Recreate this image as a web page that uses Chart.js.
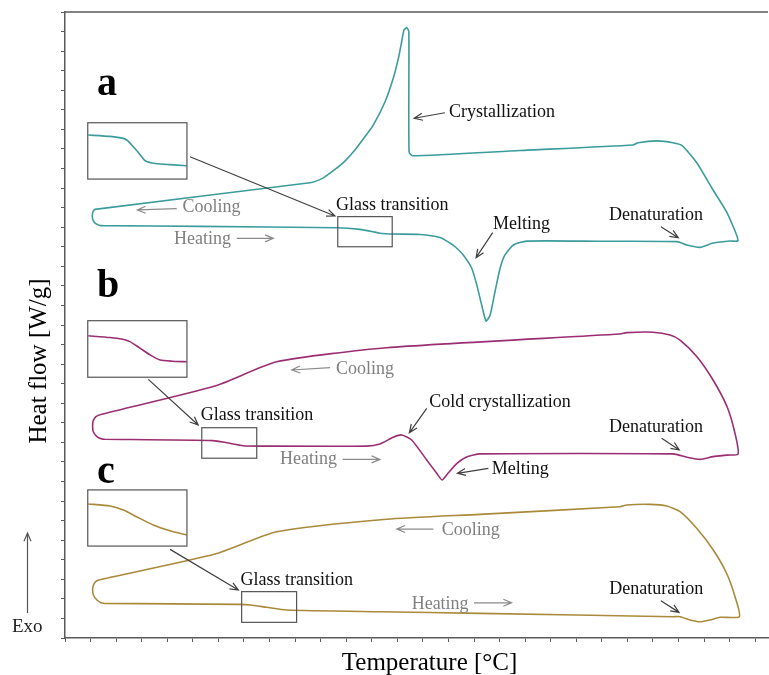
<!DOCTYPE html>
<html>
<head>
<meta charset="utf-8">
<script src="https://cdn.jsdelivr.net/npm/chart.js@4"></script>
<style>
  html, body { margin: 0; padding: 0; background: #fff; }
  canvas { display: block; }
</style>
</head>
<body>
<canvas id="dsc" width="769" height="675"></canvas>
<script>
// DSC loops (temperature in °C, heat flow in arbitrary units)
// each loop: heating branch left -> right, then cooling branch back to the start
const curveA = [
    [-85.0, 21.08], [-47.2, 21.04], [6.4, 20.97], [15.4, 20.89], [20.1, 20.78], [23.2, 20.69],
    [28.3, 20.65], [38.9, 20.63], [46.7, 20.47], [50.6, 20.19], [52.6, 20.00], [55.8, 19.58],
    [59.1, 18.90], [61.1, 18.04], [63.0, 17.02], [64.7, 16.20], [66.3, 16.51], [68.2, 17.70],
    [70.2, 18.90], [72.1, 19.58], [75.4, 20.09], [80.6, 20.29], [109.3, 20.28], [139.4, 20.26],
    [143.3, 20.09], [148.4, 19.97], [153.5, 20.19], [160.1, 20.29], [163.3, 20.32],
    [159.0, 21.73], [153.5, 22.90], [147.2, 24.28], [141.4, 25.17], [137.8, 25.32], [131.6, 25.41],
    [124.2, 25.32], [122.2, 25.20], [78.0, 24.92], [36.1, 24.65], [34.6, 24.84], [34.5, 30.99],
    [33.7, 31.20], [32.6, 31.08], [31.7, 30.48], [30.4, 29.63], [28.4, 28.61], [25.2, 27.41],
    [20.6, 26.22], [17.4, 25.64], [13.4, 24.95], [9.5, 24.38], [5.6, 23.95], [0.9, 23.51], [-4.2, 23.27],
    [-88.3, 21.91], [-89.2, 21.73], [-89.2, 21.42], [-88.1, 21.19], [-86.3, 21.09], [-85.0, 21.08]
];
const curveB = [
    [-84.4, 10.16], [-42.1, 10.09], [-36.7, 9.98], [-30.3, 9.83], [-23.7, 9.81], [18.0, 9.81],
    [23.2, 9.92], [28.4, 10.26], [31.7, 10.38], [35.6, 10.12], [41.5, 9.10], [45.4, 8.42],
    [47.5, 8.08], [49.8, 8.42], [53.3, 8.93], [57.3, 9.27], [62.3, 9.41], [137.8, 9.41],
    [143.3, 9.24], [148.4, 9.13], [153.5, 9.27], [159.0, 9.35], [163.3, 9.41],
    [162.1, 10.46], [159.0, 11.82], [153.5, 13.19], [147.2, 14.38], [140.6, 15.23], [136.7, 15.49],
    [130.0, 15.63], [119.8, 15.61], [117.1, 15.54], [25.8, 14.84], [-17.2, 14.12], [-41.3, 12.88],
    [-85.6, 11.44], [-87.9, 11.32], [-89.0, 11.09], [-89.2, 10.80], [-88.9, 10.53], [-87.5, 10.30],
    [-85.5, 10.17], [-84.4, 10.16]
];
const curveC = [
    [-84.6, 1.77], [-31.5, 1.72], [-27.6, 1.69], [-21.1, 1.57], [-13.3, 1.43], [23.2, 1.34],
    [62.3, 1.26], [137.8, 1.09], [140.6, 1.09], [144.5, 0.92], [148.4, 0.83], [152.3, 0.92],
    [156.2, 1.06], [163.8, 1.09],
    [162.1, 2.11], [158.8, 3.31], [153.6, 4.50], [147.1, 5.61], [140.6, 6.46], [135.4, 6.75],
    [128.8, 6.83], [119.7, 6.80], [117.1, 6.71], [62.3, 6.32], [25.8, 6.07], [-17.2, 5.43],
    [-41.3, 4.29], [-85.6, 3.00], [-87.9, 2.89], [-89.0, 2.66], [-89.2, 2.45], [-88.9, 2.20],
    [-87.5, 1.94], [-85.9, 1.80], [-84.6, 1.77]
];

// zoomed glass transition shown in the small boxes on the left
const insetA = [[-90.9, 25.71], [-82.4, 25.64], [-77.2, 25.54], [-75.4, 25.41], [-71.8, 24.89], [-68.7, 24.40], [-66.0, 24.28], [-62.8, 24.23], [-52.4, 24.14]];
const insetB = [[-90.9, 15.45], [-82.4, 15.36], [-77.8, 15.28], [-74.6, 15.15], [-70.7, 14.82], [-66.7, 14.47], [-62.8, 14.21], [-58.1, 14.15], [-52.4, 14.12]];
const insetC = [[-90.9, 6.85], [-82.4, 6.75], [-77.2, 6.54], [-72.0, 6.20], [-65.5, 5.78], [-58.9, 5.48], [-52.4, 5.27]];

const seriesColors = ['#3b9c9b', '#9b2d73', '#a98a3a'];

// boxes: [x1, y1, x2, y2]
const insetBoxes = [[-91.1, 26.34, -52.3, 23.46], [-91.1, 16.22, -52.3, 13.33], [-91.1, 7.57, -52.3, 4.70]];
const glassBoxes = [[6.7, 21.54, 28.0, 20.00], [-46.5, 10.75, -25.0, 9.19], [-30.9, 2.37, -9.4, 0.80]];

const panelLetters = ['a', 'b', 'c'];
const panelLetterPos = [[-87.5, 27.76], [-87.5, 17.43], [-87.5, 7.92]];

// notes: [text, x, y, gray]
const notes = [
    ['Glass transition', 6.0, 21.88, false],
    ['Cooling', -54.0, 21.78, true],
    ['Heating', -57.4, 20.15, true],
    ['Crystallization', 50.2, 26.63, false],
    ['Melting', 67.4, 20.91, false],
    ['Denaturation', 112.8, 21.37, false],
    ['Glass transition', -46.9, 11.14, false],
    ['Cooling', 6.0, 13.52, true],
    ['Heating', -15.9, 8.89, true],
    ['Cold crystallization', 42.5, 11.83, false],
    ['Melting', 66.9, 8.38, false],
    ['Denaturation', 112.8, 10.51, false],
    ['Glass transition', -31.3, 2.71, false],
    ['Cooling', 47.4, 5.27, true],
    ['Heating', 35.6, 1.48, true],
    ['Denaturation', 112.9, 2.23, false]
];

// arrows: [x1, y1, x2, y2, gray]
const arrows = [
    [-51.1, 24.60, 5.6, 21.57, false],
    [-56.3, 21.95, -71.7, 21.88, true],
    [-32.8, 20.43, -18.5, 20.43, true],
    [48.6, 26.85, 36.6, 26.57, false],
    [67.3, 20.72, 60.8, 19.44, false],
    [133.1, 21.02, 139.9, 20.46, false],
    [-67.4, 13.22, -47.9, 10.89, false],
    [3.7, 13.82, -11.3, 13.70, true],
    [8.6, 9.13, 23.2, 9.13, true],
    [41.5, 11.74, 34.7, 10.49, false],
    [65.6, 8.67, 53.5, 8.42, false],
    [133.4, 10.21, 140.3, 9.61, false],
    [-58.9, 4.53, -32.2, 2.45, false],
    [44.1, 5.57, 29.8, 5.57, true],
    [60.0, 1.80, 74.7, 1.80, true],
    [133.1, 1.91, 140.2, 1.31, false]
];

const axisColor = '#5a5a5a';
const serif = "'Liberation Serif', 'Times New Roman', serif";

function toPoints(arr) {
    return arr.map(p => ({ x: p[0], y: p[1] }));
}

function drawArrow(ctx, x1, y1, x2, y2, color) {
    const a = Math.atan2(y2 - y1, x2 - x1);
    const h = 9, s = 0.4;
    ctx.strokeStyle = color;
    ctx.lineWidth = 1.2;
    ctx.beginPath();
    ctx.moveTo(x1, y1);
    ctx.lineTo(x2, y2);
    ctx.moveTo(x2 - h * Math.cos(a - s), y2 - h * Math.sin(a - s));
    ctx.lineTo(x2, y2);
    ctx.lineTo(x2 - h * Math.cos(a + s), y2 - h * Math.sin(a + s));
    ctx.stroke();
}

const decor = {
    id: 'decor',
    afterDatasetsDraw(chart) {
        const { ctx, chartArea, scales: { x, y } } = chart;
        ctx.save();

        // top frame line
        ctx.strokeStyle = axisColor;
        ctx.lineWidth = 1.5;
        ctx.beginPath();
        ctx.moveTo(chartArea.left, chartArea.top);
        ctx.lineTo(chartArea.right, chartArea.top);
        ctx.stroke();

        // boxes
        ctx.strokeStyle = '#555';
        ctx.lineWidth = 1.2;
        insetBoxes.concat(glassBoxes).forEach(b => {
            const x1 = x.getPixelForValue(b[0]), y1 = y.getPixelForValue(b[1]);
            const x2 = x.getPixelForValue(b[2]), y2 = y.getPixelForValue(b[3]);
            ctx.strokeRect(x1, y1, x2 - x1, y2 - y1);
        });

        // arrows
        arrows.forEach(a => {
            drawArrow(ctx, x.getPixelForValue(a[0]), y.getPixelForValue(a[1]),
                x.getPixelForValue(a[2]), y.getPixelForValue(a[3]), a[4] ? '#8a8a8a' : '#404040');
        });

        // notes
        ctx.font = '18px ' + serif;
        ctx.textBaseline = 'alphabetic';
        ctx.textAlign = 'left';
        notes.forEach(n => {
            ctx.fillStyle = n[3] ? '#808080' : '#111';
            ctx.fillText(n[0], x.getPixelForValue(n[1]), y.getPixelForValue(n[2]));
        });

        // panel letters
        ctx.font = 'bold 40px ' + serif;
        ctx.fillStyle = '#000';
        panelLetters.forEach((t, i) => {
            ctx.fillText(t, x.getPixelForValue(panelLetterPos[i][0]), y.getPixelForValue(panelLetterPos[i][1]));
        });

        // axis titles
        ctx.font = '25px ' + serif;
        ctx.fillStyle = '#000';
        ctx.textAlign = 'center';
        ctx.fillText('Temperature [°C]', x.getPixelForValue(42.6), chartArea.bottom + 32);
        ctx.save();
        ctx.translate(chartArea.left - 19, y.getPixelForValue(14.16));
        ctx.rotate(-Math.PI / 2);
        ctx.fillText('Heat flow [W/g]', 0, 0);
        ctx.restore();

        // exo marker
        ctx.font = '19px ' + serif;
        ctx.textAlign = 'left';
        ctx.fillStyle = '#222';
        ctx.fillText('Exo', chartArea.left - 53, chartArea.bottom - 6);
        drawArrow(ctx, chartArea.left - 37.5, chartArea.bottom - 25, chartArea.left - 37.5, chartArea.bottom - 105, '#555');

        ctx.restore();
    }
};

const curveSets = [curveA, curveB, curveC];
const insetSets = [insetA, insetB, insetC];
const datasets = [];
curveSets.concat(insetSets).forEach((c, i) => {
    datasets.push({
        data: toPoints(c),
        borderColor: seriesColors[i % 3],
        borderWidth: 1.6,
        showLine: true,
        pointRadius: 0,
        tension: 0.2
    });
});

new Chart(document.getElementById('dsc'), {
    type: 'scatter',
    data: { datasets },
    options: {
        responsive: false,
        devicePixelRatio: 1,
        animation: false,
        layout: { padding: { left: 61, top: 12, right: 1, bottom: 33 } },
        plugins: {
            legend: { display: false },
            tooltip: { enabled: false }
        },
        scales: {
            x: {
                type: 'linear',
                min: -100,
                max: 175,
                ticks: { display: false, stepSize: 10, includeBounds: false },
                grid: { drawOnChartArea: false, drawTicks: true, tickLength: 4, color: axisColor, lineWidth: 1 },
                border: { display: true, color: axisColor, width: 1.5 }
            },
            y: {
                type: 'linear',
                min: 0,
                max: 32,
                ticks: { display: false, stepSize: 1 },
                grid: { drawOnChartArea: false, drawTicks: true, tickLength: 4, color: axisColor, lineWidth: 1 },
                border: { display: true, color: axisColor, width: 1.5 }
            }
        }
    },
    plugins: [decor]
});
</script>
</body>
</html>
